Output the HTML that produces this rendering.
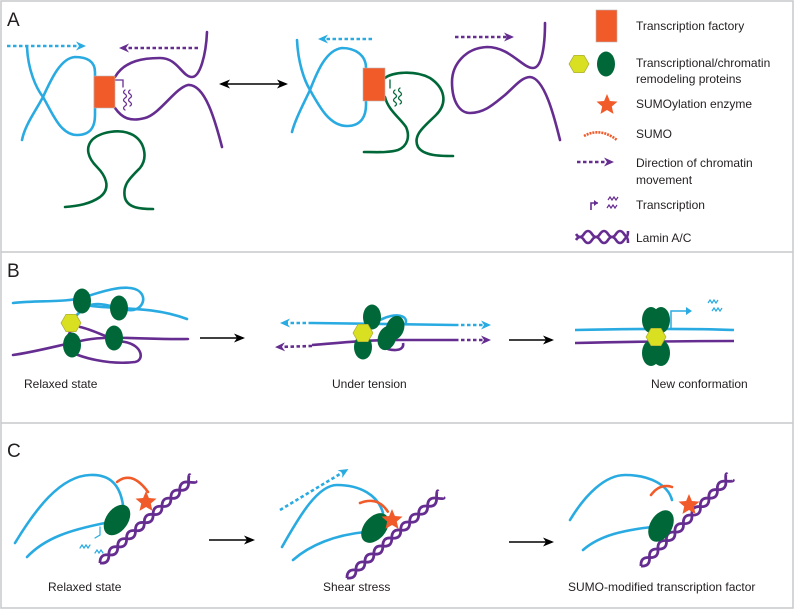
<!DOCTYPE html>
<html><head><meta charset="utf-8"><style>
html,body{margin:0;padding:0;background:#fff;}
svg{display:block;}
text{font-family:"Liberation Sans",sans-serif;fill:#231f20;}
</style></head><body>
<svg width="794" height="609" viewBox="0 0 794 609" xmlns="http://www.w3.org/2000/svg">
<defs>
<marker id="hb" markerWidth="10" markerHeight="9" refX="6" refY="4.5" orient="auto" markerUnits="userSpaceOnUse"><path d="M0,0 L10,4.5 L0,9 L3,4.5 Z" fill="#29abe2"/></marker>
<marker id="hp" markerWidth="10" markerHeight="9" refX="6" refY="4.5" orient="auto" markerUnits="userSpaceOnUse"><path d="M0,0 L10,4.5 L0,9 L3,4.5 Z" fill="#662d91"/></marker>
<marker id="hk" markerWidth="11" markerHeight="9" refX="9" refY="4.5" orient="auto" markerUnits="userSpaceOnUse"><path d="M0,0 L11,4.5 L0,9 L3,4.5 Z" fill="#000"/></marker>
<marker id="hks" markerWidth="11" markerHeight="9" refX="2" refY="4.5" orient="auto" markerUnits="userSpaceOnUse"><path d="M11,0 L0,4.5 L11,9 L8,4.5 Z" fill="#000"/></marker>
<g id="helix" fill="none" stroke="#662d91" stroke-width="2.8">
<path d="M0,0 q6,-7 12,0 t12,0 t12,0 t12,0 t12,0 t12,0 t12,0 t12,0 t12,0 t12,0 t6,-4"/>
<path d="M0,0 q6,7 12,0 t12,0 t12,0 t12,0 t12,0 t12,0 t12,0 t12,0 t12,0 t12,0 t6,4"/>
</g>
<g id="helixS" fill="none" stroke="#662d91" stroke-width="2.6">
<path d="M0,-3 q4,6 8,0 t8,0 t8,0 t8,0 t8,0 t8,0 t4,-3"/>
<path d="M0,3 q4,-6 8,0 t8,0 t8,0 t8,0 t8,0 t8,0 t4,3"/>
</g>
<polygon id="star" points="0,-11 2.9,-4 10.5,-3.4 4.8,1.5 6.5,8.9 0,5 -6.5,8.9 -4.8,1.5 -10.5,-3.4 -2.9,-4" fill="#f15a29"/>
<polygon id="hex" points="10,0 5,8.7 -5,8.7 -10,0 -5,-8.7 5,-8.7" fill="#d9e021" stroke="#a8a83a" stroke-width="0.7"/>
</defs>

<rect x="1" y="1" width="792" height="607" fill="none" stroke="#c7c8ca" stroke-width="1.5"/>
<line x1="1" y1="252" x2="793" y2="252" stroke="#c7c8ca" stroke-width="1.5"/>
<line x1="1" y1="423" x2="793" y2="423" stroke="#c7c8ca" stroke-width="1.5"/>

<text x="7" y="26" font-size="19">A</text>
<text x="7" y="277" font-size="19">B</text>
<text x="7" y="457" font-size="19">C</text>

<!-- Panel A left -->
<line x1="7" y1="46" x2="82" y2="46" stroke="#29abe2" stroke-width="2.6" stroke-dasharray="3.5 2.5" marker-end="url(#hb)"/>
<line x1="198" y1="48" x2="123" y2="48" stroke="#662d91" stroke-width="2.6" stroke-dasharray="3.5 2.5" marker-end="url(#hp)"/>
<g fill="none" stroke-width="2.6" stroke-linecap="round">
<path stroke="#29abe2" d="M27,47 C28,70 36,88 43,97 C52,112 60,135 77,135 C92,135 95,125 95,115 L95,72 C95,62 88,57 75,57 C60,58 50,82 43,97 C35,112 25,125 22,140"/>
<path stroke="#662d91" d="M207,32 C206,55 200,77 192,77 C182,77 178,58 160,58 C145,58 125,60 115,77 M115,108 C122,118 130,122 145,118 C160,114 175,88 188,85 C205,84 215,120 222,147"/>
<path stroke="#662d91" stroke-width="1.3" d="M115,80 L123,80 L123,87 M125,90 q-3,2 0,4 q3,2 0,4 q-3,2 0,4 q3,2 0,4 q-3,2 0,4 M130,90 q-3,2 0,4 q3,2 0,4 q-3,2 0,4 q3,2 0,4"/>
<path stroke="#006838" d="M65,207 C78,206 90,204 100,197 C112,188 105,175 97,167 C88,158 85,148 92,140 C100,132 120,128 133,135 C145,142 148,158 140,168 C130,178 122,185 125,198 C128,208 140,209 153,209"/>
</g>
<rect x="94" y="76" width="21" height="32" fill="#f15a29" stroke="#b7b7b7" stroke-width="0.6"/>

<line x1="221" y1="84" x2="286" y2="84" stroke="#000" stroke-width="1.6" marker-start="url(#hks)" marker-end="url(#hk)"/>

<!-- Panel A right -->
<line x1="372" y1="39" x2="322" y2="39" stroke="#29abe2" stroke-width="2.6" stroke-dasharray="3.5 2.5" marker-end="url(#hb)"/>
<line x1="455" y1="37" x2="510" y2="37" stroke="#662d91" stroke-width="2.6" stroke-dasharray="3.5 2.5" marker-end="url(#hp)"/>
<g fill="none" stroke-width="2.6" stroke-linecap="round">
<path stroke="#29abe2" d="M297,40 C298,62 304,80 310,90 C320,108 330,126 347,126 C362,126 366,115 366,105 L366,68 C366,55 355,48 342,48 C325,50 316,75 310,90 C303,105 295,120 292,132"/>
<path stroke="#006838" d="M385,78 C392,72 415,70 430,78 C445,88 448,103 436,115 C425,126 412,135 418,147 C424,156 440,156 453,156 M385,97 C388,110 400,118 406,127 C410,136 408,146 398,150 C388,153 375,152 364,152"/>
<path stroke="#006838" stroke-width="1.3" d="M390,80 L390,88 M395,90 q-3,2 0,4 q3,2 0,4 q-3,2 0,4 q3,2 0,4 M400,88 q-3,2 0,4 q3,2 0,4 q-3,2 0,4 q3,2 0,4"/>
<path stroke="#662d91" d="M545,23 C545,45 542,68 533,68 C522,68 510,47 487,47 C465,48 452,65 452,82 C452,102 460,113 470,113 C485,113 495,103 505,95 C515,86 522,77 530,77 C545,78 555,120 560,140"/>
</g>
<rect x="363" y="68" width="22" height="33" fill="#f15a29" stroke="#b7b7b7" stroke-width="0.6"/>

<!-- Legend -->
<rect x="596" y="10" width="21" height="32" fill="#f15a29" stroke="#b7b7b7" stroke-width="0.6"/>
<text x="636" y="30" font-size="12">Transcription factory</text>
<use href="#hex" x="579" y="64"/>
<ellipse cx="606" cy="64" rx="9" ry="12.5" fill="#006838"/>
<text x="636" y="67" font-size="12">Transcriptional/chromatin</text>
<text x="636" y="83" font-size="12">remodeling proteins</text>
<use href="#star" x="607" y="105"/>
<text x="636" y="108" font-size="12">SUMOylation enzyme</text>
<path d="M584,136 Q600,127 617,140" fill="none" stroke="#f15a29" stroke-width="2.6" stroke-dasharray="2 1"/>
<text x="636" y="138" font-size="12">SUMO</text>
<line x1="577" y1="162" x2="610" y2="162" stroke="#662d91" stroke-width="2.6" stroke-dasharray="3.5 2.5" marker-end="url(#hp)"/>
<text x="636" y="167" font-size="12">Direction of chromatin</text>
<text x="636" y="184" font-size="12">movement</text>
<path d="M591,210 L591,203 L598,203" fill="none" stroke="#662d91" stroke-width="1.6"/>
<path d="M594,200 L598,203 L594,206 Z" fill="#662d91"/>
<path d="M608,200 l2,-3 l2,3 l2,-3 l2,3 l2,-3 M607,208 l2,-3 l2,3 l2,-3 l2,3 l2,-3" fill="none" stroke="#662d91" stroke-width="1.2"/>
<text x="636" y="209" font-size="12">Transcription</text>
<use href="#helixS" x="576" y="237"/>
<text x="636" y="242" font-size="12">Lamin A/C</text>

<!-- Panel B relaxed -->
<g fill="none" stroke-width="2.6" stroke-linecap="round">
<path stroke="#29abe2" d="M13,303 C40,300 65,303 85,297 C100,292 130,282 140,292 C148,300 140,312 128,310 C110,306 95,300 85,308 C75,315 70,322 71,330 M85,305 C110,310 150,305 187,319"/>
<path stroke="#662d91" d="M13,355 C35,352 60,345 85,340 C110,335 150,340 188,339 M71,330 C68,338 60,345 68,350 C80,358 110,365 135,362 C145,360 142,345 125,342 C110,340 95,330 80,327"/>
</g>
<ellipse cx="82" cy="301" rx="9" ry="12.5" fill="#006838"/>
<ellipse cx="119" cy="308" rx="9" ry="12.5" fill="#006838"/>
<ellipse cx="72" cy="345" rx="9" ry="12.5" fill="#006838"/>
<ellipse cx="114" cy="338" rx="9" ry="12.5" fill="#006838"/>
<use href="#hex" x="71" y="323"/>
<line x1="200" y1="338" x2="243" y2="338" stroke="#000" stroke-width="1.6" marker-end="url(#hk)"/>
<text x="24" y="388" font-size="12">Relaxed state</text>

<!-- Panel B tension -->
<g fill="none" stroke-width="2.6">
<path stroke="#29abe2" d="M312,323 L455,325"/>
<path stroke="#662d91" d="M312,345 C340,343 360,340 400,340 L455,340"/>
<path stroke="#29abe2" d="M380,320 C395,312 410,315 405,325"/>
<path stroke="#662d91" d="M380,345 C390,352 405,352 403,343"/>
</g>
<line x1="312" y1="323" x2="284" y2="323" stroke="#29abe2" stroke-width="2.6" stroke-dasharray="3.5 2.5" marker-end="url(#hb)"/>
<line x1="455" y1="325" x2="487" y2="325" stroke="#29abe2" stroke-width="2.6" stroke-dasharray="3.5 2.5" marker-end="url(#hb)"/>
<line x1="312" y1="346" x2="279" y2="347" stroke="#662d91" stroke-width="2.6" stroke-dasharray="3.5 2.5" marker-end="url(#hp)"/>
<line x1="455" y1="340" x2="487" y2="340" stroke="#662d91" stroke-width="2.6" stroke-dasharray="3.5 2.5" marker-end="url(#hp)"/>
<ellipse cx="372" cy="317" rx="9" ry="12.5" fill="#006838"/>
<ellipse cx="363" cy="347" rx="9" ry="12.5" fill="#006838"/>
<ellipse cx="395" cy="328" rx="9" ry="12.5" fill="#006838" transform="rotate(20 395 328)"/>
<ellipse cx="387" cy="338" rx="9" ry="12.5" fill="#006838" transform="rotate(20 387 338)"/>
<use href="#hex" x="363" y="333"/>
<line x1="509" y1="340" x2="552" y2="340" stroke="#000" stroke-width="1.6" marker-end="url(#hk)"/>
<text x="332" y="388" font-size="12">Under tension</text>

<!-- Panel B new -->
<path d="M575,330 C620,329 680,328 734,330" fill="none" stroke="#29abe2" stroke-width="2.6"/>
<path d="M575,343 C620,342 680,341 734,341" fill="none" stroke="#662d91" stroke-width="2.6"/>
<ellipse cx="651" cy="320" rx="9" ry="13" fill="#006838"/>
<ellipse cx="661" cy="320" rx="9" ry="13" fill="#006838"/>
<ellipse cx="651" cy="353" rx="9" ry="13" fill="#006838"/>
<ellipse cx="661" cy="353" rx="9" ry="13" fill="#006838"/>
<use href="#hex" x="656" y="337"/>
<path d="M671,330 L671,311 L688,311" fill="none" stroke="#29abe2" stroke-width="1.5"/>
<path d="M686,307 L692,311 L686,315 Z" fill="#29abe2"/>
<path d="M708,303 l2,-3 l2,3 l2,-3 l2,3 l2,-3 M712,311 l2,-3 l2,3 l2,-3 l2,3 l2,-3" fill="none" stroke="#29abe2" stroke-width="1.2"/>
<text x="651" y="388" font-size="12">New conformation</text>

<!-- Panel C1 -->
<g transform="translate(100,563) rotate(-42.4)"><use href="#helix"/></g>
<g fill="none" stroke-width="2.6" stroke-linecap="round">
<path stroke="#29abe2" d="M15,543 C35,510 60,476 90,475 C110,474 120,485 123,505"/>
<path stroke="#29abe2" d="M27,557 C45,538 70,530 105,523"/>
<path stroke="#29abe2" stroke-width="1.2" d="M100,527 L100,535 L95,538 M80,548 l2,-3 l2,3 l2,-3 l2,3 l2,-3 M95,553 l2,-3 l2,3 l2,-3 l2,3"/>
<path stroke="#f15a29" stroke-dasharray="2 1" d="M117,482 Q132,470 148,492"/>
</g>
<ellipse cx="117" cy="520" rx="11" ry="17" fill="#006838" transform="rotate(35 117 520)"/>
<use href="#star" x="146" y="502"/>
<line x1="209" y1="540" x2="253" y2="540" stroke="#000" stroke-width="1.6" marker-end="url(#hk)"/>
<text x="48" y="591" font-size="12">Relaxed state</text>

<!-- Panel C2 -->
<g transform="translate(347,578) rotate(-41.7)"><use href="#helix"/></g>
<line x1="280" y1="510" x2="345" y2="471" stroke="#29abe2" stroke-width="2.6" stroke-dasharray="3.5 2.5" marker-end="url(#hb)"/>
<g fill="none" stroke-width="2.6" stroke-linecap="round">
<path stroke="#29abe2" d="M282,547 C300,515 318,485 337,485 C360,485 378,495 383,513"/>
<path stroke="#29abe2" d="M293,560 C310,545 335,535 365,532"/>
<path stroke="#f15a29" stroke-dasharray="2 1" d="M360,503 Q378,496 388,512"/>
</g>
<ellipse cx="375" cy="528" rx="11" ry="17" fill="#006838" transform="rotate(40 375 528)"/>
<use href="#star" x="392" y="520"/>
<line x1="509" y1="542" x2="552" y2="542" stroke="#000" stroke-width="1.6" marker-end="url(#hk)"/>
<text x="323" y="591" font-size="12">Shear stress</text>

<!-- Panel C3 -->
<g transform="translate(641,566) rotate(-45)"><use href="#helix"/></g>
<g fill="none" stroke-width="2.6" stroke-linecap="round">
<path stroke="#29abe2" d="M570,520 C585,495 605,475 625,475 C650,475 668,485 672,500"/>
<path stroke="#29abe2" d="M583,550 C600,535 625,530 652,527"/>
<path stroke="#f15a29" stroke-dasharray="2 1" d="M651,495 Q660,483 672,487"/>
</g>
<ellipse cx="661" cy="526" rx="11" ry="17" fill="#006838" transform="rotate(30 661 526)"/>
<use href="#star" x="689" y="505"/>
<text x="568" y="591" font-size="12">SUMO-modified transcription factor</text>
</svg>
</body></html>
